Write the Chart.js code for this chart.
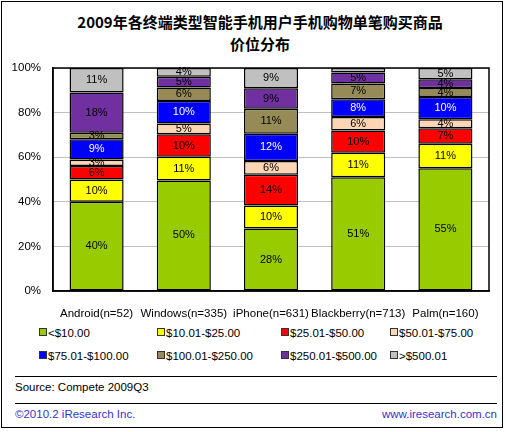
<!DOCTYPE html>
<html>
<head>
<meta charset="utf-8">
<script src="https://cdn.jsdelivr.net/npm/chart.js@4/dist/chart.umd.min.js"></script>
<style>
  body { margin:0; background:#fff; font-family:"Liberation Sans", Arial, sans-serif; }
  #frame { position:absolute; left:1px; top:1px; width:500px; height:425px; border:1.5px solid #000; }
  #title { position:absolute; left:10px; top:11px; width:500px; text-align:center;
           font-family:"Noto Sans CJK SC", sans-serif; font-weight:bold; font-size:15px; line-height:22px; color:#000; }
  #wrap { position:absolute; left:0; top:0; width:506px; height:320px; }
  #legend { position:absolute; left:0; top:324px; width:506px; height:44px; font-size:11.5px; }
  .li { position:absolute; white-space:nowrap; line-height:14px; }
  .li span.box { display:inline-block; width:6px; height:6px; border:1px solid #333; margin-right:1px; vertical-align:1px; }
  .rule { position:absolute; left:15px; width:482px; height:0; border-top:1px solid #000; }
  #source { position:absolute; left:15px; top:381px; font-size:11.5px; }
  #copy { position:absolute; left:15px; top:408px; font-size:11.5px; color:#3333cc; }
  #site { position:absolute; right:9px; top:408px; font-size:11.5px; color:#3333cc; }
</style>
</head>
<body>
<div id="frame"></div>
<div id="title">2009年各终端类型智能手机用户手机购物单笔购买商品<br>价位分布</div>
<div id="wrap"><canvas id="priceChart"></canvas></div>
<div id="legend"></div>
<div class="rule" style="top:376px"></div>
<div class="rule" style="top:403px"></div>
<div id="source">Source: Compete 2009Q3</div>
<div id="copy">©2010.2 iResearch Inc.</div>
<div id="site">www.iresearch.com.cn</div>

<script>
// ================= DATA =================

const categories = ['Android(n=52)', 'Windows(n=335)', 'iPhone(n=631)', 'Blackberry(n=713)', 'Palm(n=160)'];

const priceRanges = ['<$10.00', '$10.01-$25.00', '$25.01-$50.00', '$50.01-$75.00',
                     '$75.01-$100.00', '$100.01-$250.00', '$250.01-$500.00', '>$500.01'];

// share (%) per price range, in category order
const under10   = [40, 49.6, 28,   51,  55];
const r10to25   = [10, 10.6, 10.3, 11,  11];
const r25to50   = [6,  10.1, 13.8, 10,  7];
const r50to75   = [3,  4.8,  6.2,  6,   4];
const r75to100  = [9,  10.1, 12.2, 8,   10];
const r100to250 = [3,  6.1,  11.2, 7,   4];
const r250to500 = [18, 4.8,  9.2,  5,   4];
const over500   = [11, 3.9,  9.1,  2,   5];

const yTicks = [0, 20, 40, 60, 80, 100];

const seriesValues = [under10, r10to25, r25to50, r50to75, r75to100, r100to250, r250to500, over500];
const seriesColors = ['#99cc00', '#ffff00', '#ff0000', '#fcd5b4', '#0000ff', '#968b56', '#7030a0', '#c0c0c0'];
const labelColors  = ['#000', '#000', '#000', '#000', '#fff', '#000', '#000', '#000'];

// ================= PLUGINS =================

// values written in the middle of each segment
const segmentLabels = {
    id: 'segmentLabels',
    afterDatasetsDraw(chart){
        const ctx = chart.ctx;
        ctx.save();
        ctx.font = '11px "Liberation Sans", Arial, sans-serif';
        ctx.textAlign = 'center';
        ctx.textBaseline = 'middle';
        chart.data.datasets.forEach((ds, i) => {
            const meta = chart.getDatasetMeta(i);
            meta.data.forEach((bar, j) => {
                const v = ds.data[j];
                if(v < 2.5) return;
                ctx.fillStyle = labelColors[i];
                ctx.fillText(Math.round(v) + '%', bar.x, (bar.y + bar.base) / 2);
            });
        });
        ctx.restore();
    }
};

// black frame round the plot area
const plotFrame = {
    id: 'plotFrame',
    afterDraw(chart){
        const a = chart.chartArea;
        const ctx = chart.ctx;
        ctx.save();
        ctx.strokeStyle = '#000';
        ctx.lineWidth = 1.5;
        ctx.strokeRect(a.left, a.top, a.right - a.left, a.bottom - a.top);
        ctx.restore();
    }
};

// ================= CHART =================

const datasets = seriesValues.map((vals, i) => ({
    label: priceRanges[i],
    data: vals,
    backgroundColor: seriesColors[i],
    borderColor: '#000',
    borderWidth: 1.5,
    borderSkipped: false,
    barPercentage: 0.62,
    categoryPercentage: 1
}));

new Chart(document.getElementById('priceChart'), {
    type: 'bar',
    data: { labels: categories, datasets: datasets },
    options: {
        responsive: true,
        maintainAspectRatio: false,
        animation: false,
        layout: { padding: { top: 68, right: 17, bottom: 0, left: 0 } },
        plugins: { legend: { display: false }, tooltip: { enabled: false } },
        scales: {
            x: {
                stacked: true,
                grid: { display: false },
                border: { color: '#000', width: 1.5 },
                ticks: { color: '#000', font: { size: 11.5, family: '"Liberation Sans", Arial, sans-serif' },
                         autoSkip: false, maxRotation: 0, padding: 8 },
                afterFit(scale){ scale.height = 29; }
            },
            y: {
                stacked: true,
                min: 0,
                max: 100,
                afterBuildTicks(scale){ scale.ticks = yTicks.map(v => ({ value: v })); },
                grid: { color: '#c0c0c0', lineWidth: 1, drawTicks: false },
                border: { color: '#000', width: 1.5 },
                ticks: { color: '#000', padding: 12, font: { size: 11.5, family: '"Liberation Sans", Arial, sans-serif' },
                         callback: v => v + '%' },
                afterFit(scale){ scale.width = 53; }
            }
        }
    },
    plugins: [segmentLabels, plotFrame]
});

// ================= LEGEND =================

const legendCols = [39, 157, 281, 390];
const legendRows = [2, 25];
const legend = document.getElementById('legend');
priceRanges.forEach((name, i) => {
    const item = document.createElement('div');
    item.className = 'li';
    item.style.left = legendCols[i % 4] + 'px';
    item.style.top = legendRows[Math.floor(i / 4)] + 'px';
    item.innerHTML = '<span class="box" style="background:' + seriesColors[i] + '"></span>';
    item.appendChild(document.createTextNode(name));
    legend.appendChild(item);
});
</script>
</body>
</html>
